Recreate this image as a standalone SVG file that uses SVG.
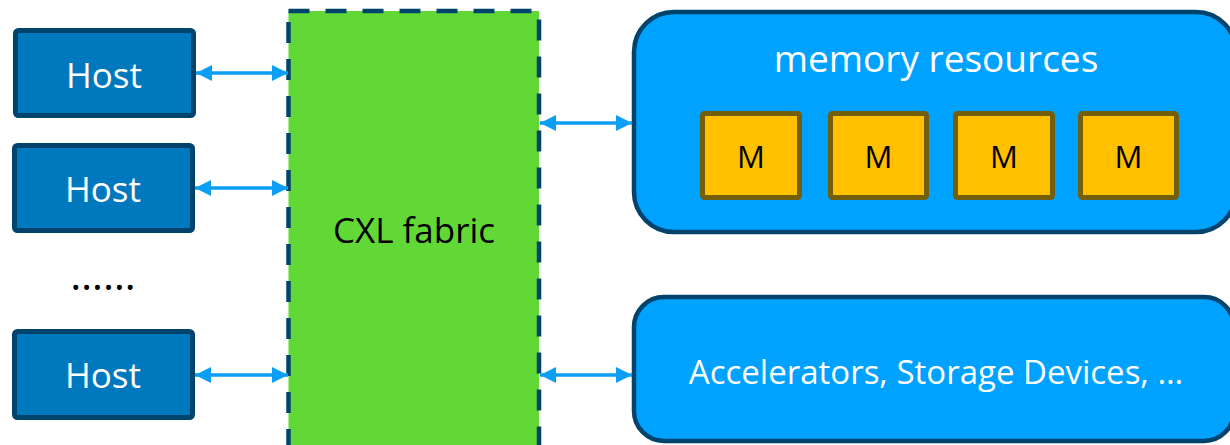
<svg xmlns="http://www.w3.org/2000/svg" width="1230" height="445" viewBox="0 0 1230 445">
  <style>
    .host rect { fill: #0078BE; stroke: #00446E; stroke-width: 5; }
    .host text { fill: #FFFFFF; font-family: "Open Sans", "Liberation Sans", sans-serif; font-size: 35px; text-anchor: middle; }
    .res rect.outer { fill: #00A2FF; stroke: #00446E; stroke-width: 4.5; }
    .res text { fill: #FFFFFF; font-family: "Open Sans", "Liberation Sans", sans-serif; text-anchor: middle; }
    .mem rect { fill: #FFC000; stroke: #725E0C; stroke-width: 5; }
    .mem text { fill: #000000; font-family: "Open Sans", "Liberation Sans", sans-serif; font-size: 31px; text-anchor: middle; }
    .link { stroke: #0A9EF5; stroke-width: 3.5; fill: none; marker-start: url(#head); marker-end: url(#head); }
  </style>
  <defs>
    <marker id="head" viewBox="0 0 16 16" refX="16" refY="8" markerWidth="16" markerHeight="16" markerUnits="userSpaceOnUse" orient="auto-start-reverse">
      <polygon points="0,0 16,8 0,16" fill="#0A9EF5"/>
    </marker>
  </defs>

  <!-- fabric -->
  <g id="fabric">
    <rect x="288.5" y="11" width="250.5" height="450" fill="#61D836" stroke="#00446E" stroke-width="4.5" stroke-dasharray="21 16"/>
    <text x="414" y="243" font-family="'Open Sans', 'Liberation Sans', sans-serif" font-size="35" text-anchor="middle" fill="#000000">CXL fabric</text>
  </g>

  <!-- hosts -->
  <g id="host1" class="host">
    <rect x="15.5" y="30.5" width="178" height="85" rx="3"/>
    <text x="104" y="88">Host</text>
  </g>
  <g id="host2" class="host">
    <rect x="14.5" y="145.5" width="178" height="85" rx="3"/>
    <text x="103" y="202">Host</text>
  </g>
  <g id="ellipsis">
    <text x="103" y="290" font-family="'Open Sans', 'Liberation Sans', sans-serif" font-size="42" text-anchor="middle" fill="#000000">……</text>
  </g>
  <g id="host3" class="host">
    <rect x="14.5" y="331.5" width="178" height="86" rx="3"/>
    <text x="103" y="388">Host</text>
  </g>

  <!-- memory resources -->
  <g id="memory" class="res">
    <rect class="outer" x="634" y="12" width="602" height="220" rx="40"/>
    <text x="936" y="72" font-size="37">memory resources</text>
    <g class="mem">
      <rect x="702.5" y="113.5" width="97" height="84" rx="2"/>
      <text x="751" y="168">M</text>
      <rect x="830.5" y="113.5" width="96" height="84" rx="2"/>
      <text x="878.5" y="168">M</text>
      <rect x="955.5" y="113.5" width="97" height="84" rx="2"/>
      <text x="1004" y="168">M</text>
      <rect x="1080.5" y="113.5" width="96" height="84" rx="2"/>
      <text x="1128.5" y="168">M</text>
    </g>
  </g>

  <!-- other devices -->
  <g id="devices" class="res">
    <rect class="outer" x="634" y="297" width="600" height="144" rx="30"/>
    <text x="936" y="384" font-size="33">Accelerators, Storage Devices, …</text>
  </g>

  <!-- connectors -->
  <g id="connectors">
    <line class="link" x1="196" y1="73" x2="288" y2="73"/>
    <line class="link" x1="195" y1="188" x2="288" y2="188"/>
    <line class="link" x1="195" y1="375" x2="288" y2="375"/>
    <line class="link" x1="540" y1="123" x2="632" y2="123"/>
    <line class="link" x1="540" y1="375" x2="632" y2="375"/>
  </g>
</svg>
